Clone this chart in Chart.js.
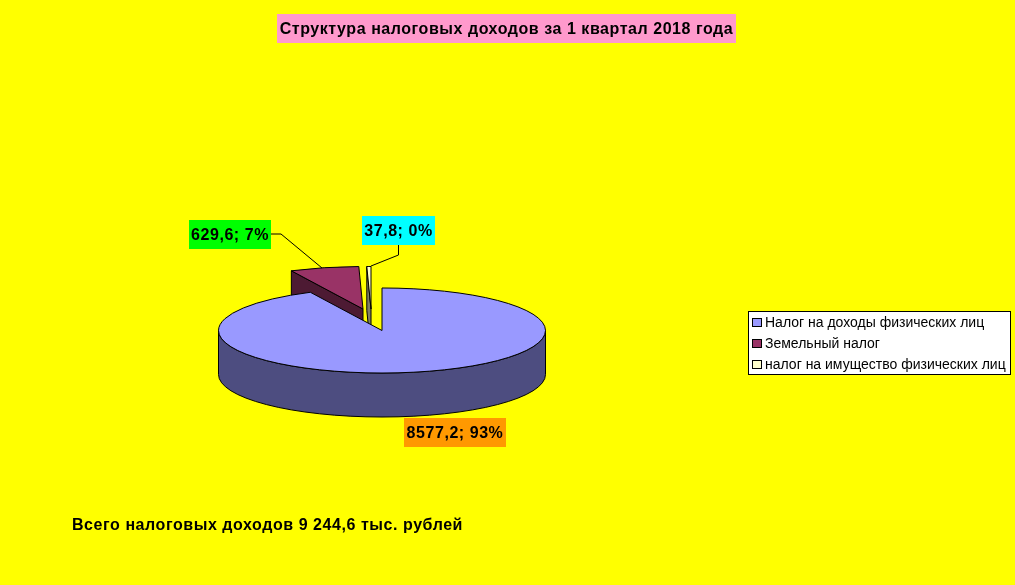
<!DOCTYPE html>
<html>
<head>
<meta charset="utf-8">
<style>
  html, body { margin: 0; padding: 0; background: #ffff00; overflow: hidden; }
  canvas { display: block; }
</style>
<script src="https://cdn.jsdelivr.net/npm/chart.js@4/dist/chart.umd.js"></script>
</head>
<body>
<canvas id="chart" width="1015" height="585"></canvas>
<script>
var categories = ['Налог на доходы физических лиц', 'Земельный налог', 'налог на имущество физических лиц'];
var values = [8577.2, 629.6, 37.8];
var faceColors = ['#9999ff', '#993366', '#ffffcc'];
var wallColors = ['#4d4d80', '#4d1a33', '#808066'];
var labelColors = ['#ff9900', '#00ff00', '#00ffff'];
var titleText = 'Структура налоговых доходов за 1 квартал 2018 года';
var footerText = 'Всего налоговых доходов 9 244,6 тыс. рублей';

// 3d look of the pie
var squash = 0.26;
var depth = 44;
var explode = [[0, 0], [-19, -21.5], [-11, -21.5]];

// label boxes and their leader lines
var labelBoxes = [[404, 418, 102, 29], [189, 220, 82, 29], [362, 216, 73, 29]];
var leaders = [null, [[271, 234], [281, 234], [322, 268]], [[398.5, 245], [398.5, 255], [371, 266]]];

var font = '"Liberation Sans", Arial, sans-serif';

function labelText(i) {
  var total = values.reduce(function(a, b) { return a + b; }, 0);
  return String(values[i]).replace('.', ',') + '; ' + Math.round(values[i] / total * 100) + '%';
}

function boxedText(ctx, text, box, fill, size) {
  ctx.fillStyle = fill;
  ctx.fillRect(box[0], box[1], box[2], box[3]);
  ctx.fillStyle = '#000';
  ctx.font = 'bold ' + size + 'px ' + font;
  ctx.letterSpacing = '0.55px';
  ctx.textAlign = 'center';
  ctx.textBaseline = 'middle';
  ctx.fillText(text, box[0] + box[2] / 2, box[1] + box[3] / 2 + 1);
  ctx.letterSpacing = '0px';
}

function outerWall(ctx, el, i) {
  var cx = el.x + explode[i][0], cy = el.y + explode[i][1];
  var r = el.outerRadius;
  var a0 = Math.max(el.startAngle, 0), a1 = Math.min(el.endAngle, Math.PI);
  if (a1 <= a0) return;
  ctx.beginPath();
  ctx.ellipse(cx, cy, r, r * squash, 0, a0, a1);
  ctx.ellipse(cx, cy + depth, r, r * squash, 0, a1, a0, true);
  ctx.closePath();
  ctx.fillStyle = wallColors[i];
  ctx.fill();
  ctx.stroke();
}

function cutWall(ctx, el, i, angle) {
  var cx = el.x + explode[i][0], cy = el.y + explode[i][1];
  var rx = Math.cos(angle) * el.outerRadius, ry = Math.sin(angle) * el.outerRadius * squash;
  ctx.beginPath();
  ctx.moveTo(cx, cy);
  ctx.lineTo(cx + rx, cy + ry);
  ctx.lineTo(cx + rx, cy + ry + depth);
  ctx.lineTo(cx, cy + depth);
  ctx.closePath();
  ctx.fillStyle = wallColors[i];
  ctx.fill();
  ctx.stroke();
}

function drawFace(ctx, el, i) {
  var cx = el.x + explode[i][0], cy = el.y + explode[i][1];
  ctx.save();
  ctx.translate(cx, cy);
  ctx.scale(1, squash);
  ctx.translate(-el.x, -el.y);
  el.draw(ctx);
  ctx.restore();
  ctx.beginPath();
  ctx.moveTo(cx, cy);
  ctx.ellipse(cx, cy, el.outerRadius, el.outerRadius * squash, 0, el.startAngle, el.endAngle);
  ctx.closePath();
  ctx.stroke();
}

var pie3d = {
  id: 'pie3d',
  beforeDraw: function(chart) {
    var ctx = chart.ctx;
    ctx.fillStyle = '#ffff00';
    ctx.fillRect(0, 0, chart.width, chart.height);
  },
  beforeDatasetsDraw: function(chart) {
    var ctx = chart.ctx;
    var arcs = chart.getDatasetMeta(0).data;
    var i;
    ctx.save();
    ctx.strokeStyle = '#000';
    ctx.lineWidth = 1;
    ctx.lineJoin = 'round';
    // back slices first so the big one covers their walls
    for (i = arcs.length - 1; i >= 0; i--) {
      if (-Math.cos(arcs[i].startAngle) > 0) cutWall(ctx, arcs[i], i, arcs[i].startAngle);
      if (Math.cos(arcs[i].endAngle) > 0) cutWall(ctx, arcs[i], i, arcs[i].endAngle);
      outerWall(ctx, arcs[i], i);
      drawFace(ctx, arcs[i], i);
    }
    ctx.restore();
    return false;
  },
  afterDraw: function(chart) {
    var ctx = chart.ctx;
    ctx.save();

    boxedText(ctx, titleText, [277, 14, 459, 29], '#ff99cc', 16);

    ctx.strokeStyle = '#000';
    ctx.lineWidth = 1;
    leaders.forEach(function(pts) {
      if (!pts) return;
      ctx.beginPath();
      pts.forEach(function(p, k) {
        if (k === 0) ctx.moveTo(p[0], p[1]); else ctx.lineTo(p[0], p[1]);
      });
      ctx.stroke();
    });
    values.forEach(function(v, i) {
      boxedText(ctx, labelText(i), labelBoxes[i], labelColors[i], 16);
    });

    // legend
    ctx.fillStyle = '#fff';
    ctx.fillRect(748.5, 311.5, 262, 63);
    ctx.strokeRect(748.5, 311.5, 262, 63);
    categories.forEach(function(name, i) {
      var y = 322.5 + i * 21;
      ctx.fillStyle = faceColors[i];
      ctx.fillRect(752.5, y - 4, 9, 8);
      ctx.strokeRect(752.5, y - 4, 9, 8);
      ctx.fillStyle = '#000';
      ctx.font = '14px ' + font;
      ctx.textAlign = 'left';
      ctx.textBaseline = 'middle';
      ctx.fillText(name, 765, y + 0.5);
    });

    ctx.fillStyle = '#000';
    ctx.font = 'bold 16px ' + font;
    ctx.letterSpacing = '0.56px';
    ctx.textAlign = 'left';
    ctx.textBaseline = 'middle';
    ctx.fillText(footerText, 72, 526);
    ctx.restore();
  }
};

new Chart(document.getElementById('chart'), {
  type: 'pie',
  data: {
    labels: categories,
    datasets: [{
      data: values,
      backgroundColor: faceColors,
      borderWidth: 0
    }]
  },
  options: {
    responsive: false,
    animation: false,
    events: [],
    radius: 163.5,
    layout: { padding: { top: 76, right: 251 } },
    plugins: {
      legend: { display: false },
      title: { display: false },
      tooltip: { enabled: false }
    }
  },
  plugins: [pie3d]
});
</script>
</body>
</html>
